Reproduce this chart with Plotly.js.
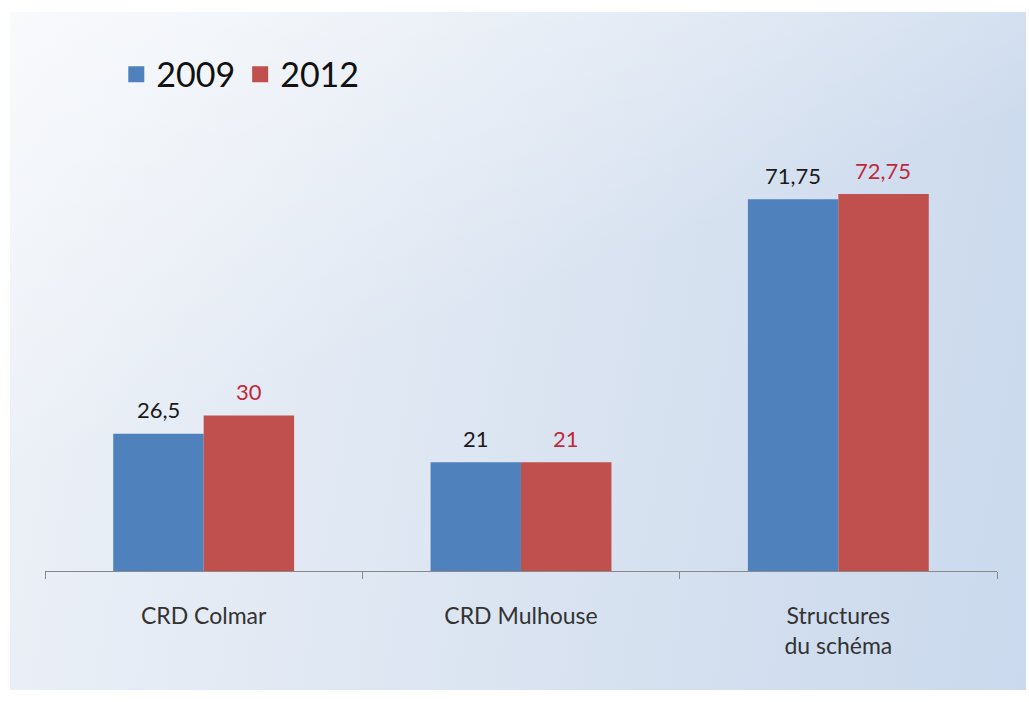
<!DOCTYPE html>
<html>
<head>
<meta charset="utf-8">
<script src="https://cdn.plot.ly/plotly-3.0.1.min.js"></script>
<style>
  html, body { margin:0; padding:0; background:#ffffff; }
  #wrap { position:relative; width:1029px; height:702px; background:#ffffff; overflow:hidden; }
  #bg { position:absolute; left:10px; top:12px; width:1016px; height:678px;
        background:
          linear-gradient(160deg, rgba(255,255,255,0.6) 0%, rgba(255,255,255,0.0) 45%),
          linear-gradient(100deg, #eef2f8 0%, #e3eaf4 30%, #d6e1f0 65%, #cad9ed 100%); }
  #chart { position:absolute; left:0; top:0; width:1029px; height:702px; }
</style>
</head>
<body>
<div id="wrap">
  <div id="bg"></div>
  <div id="chart"></div>
</div>
<script>
const categories = ["CRD Colmar", "CRD Mulhouse", "Structures<br>du schéma"];
const values2009 = [26.5, 21, 71.75];
const values2012 = [30, 21, 72.75];
const labels2009 = ["26,5", "21", "71,75"];
const labels2012 = ["30", "21", "72,75"];
const seriesNames = ["2009", "2012"];

const BLUE = "#4F81BD", RED = "#C0504D";
const FONT = "Lato, 'Open Sans', sans-serif";

const traces = [
  { type:"bar", name:seriesNames[0], x:categories, y:values2009, marker:{color:BLUE}, hoverinfo:"none", showlegend:false },
  { type:"bar", name:seriesNames[1], x:categories, y:values2012, marker:{color:RED}, hoverinfo:"none", showlegend:false },
  { type:"scatter", mode:"markers", name:seriesNames[0], x:[null], y:[null], marker:{symbol:"square", size:16, color:BLUE}, hoverinfo:"none" },
  { type:"scatter", mode:"markers", name:seriesNames[1], x:[null], y:[null], marker:{symbol:"square", size:16, color:RED}, hoverinfo:"none" }
];

const annotations = [];
categories.forEach((c, i) => {
  annotations.push({ x:c, y:values2009[i], xref:"x", yref:"y", text:labels2009[i], showarrow:false,
    xshift:-45, yshift:24, yanchor:"middle", font:{family:FONT, size:22, color:"#1a1a1a"} });
  annotations.push({ x:c, y:values2012[i], xref:"x", yref:"y", text:labels2012[i], showarrow:false,
    xshift:45, yshift:24, yanchor:"middle", font:{family:FONT, size:22, color:"#C0283C"} });
});

const layout = {
  width:1029, height:702,
  margin:{l:45, r:32, t:130, b:131},
  paper_bgcolor:"rgba(0,0,0,0)",
  plot_bgcolor:"rgba(0,0,0,0)",
  barmode:"group",
  bargap:0.43,
  bargroupgap:0,
  showlegend:true,
  legend:{ orientation:"h", xref:"container", yref:"container", x:0.113, y:0.935, xanchor:"left", yanchor:"top",
           font:{family:FONT, size:34, color:"#111"}, bgcolor:"rgba(0,0,0,0)", itemwidth:30, traceorder:"normal" },
  xaxis:{ type:"category", range:[-0.5, 2.5], showline:true, linecolor:"#888", linewidth:1,
          ticks:"outside", tickson:"boundaries", ticklen:7, tickcolor:"#888",
          tickfont:{family:FONT, size:23, color:"#333"}, ticklabelstandoff:24, showgrid:false, zeroline:false, fixedrange:true },
  yaxis:{ range:[0, 85.1], visible:false, showgrid:false, zeroline:false, fixedrange:true },
  annotations: annotations,
  font:{family:FONT}
};

Plotly.newPlot("chart", traces, layout, {displayModeBar:false, staticPlot:true});
</script>
</body>
</html>
